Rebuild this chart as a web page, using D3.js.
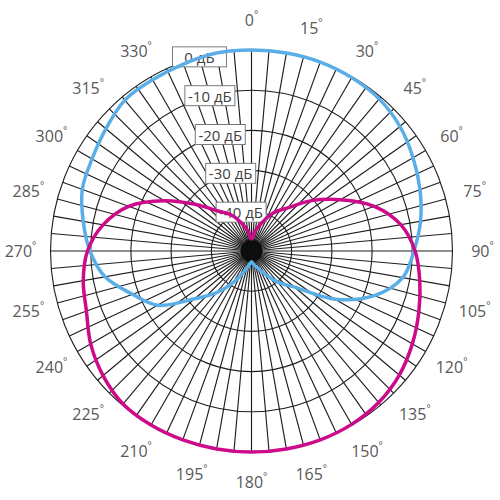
<!DOCTYPE html>
<html>
<head>
<meta charset="utf-8">
<script src="https://cdn.jsdelivr.net/npm/d3@7"></script>
<style>
  body { margin: 0; background: #fff; }
  text { font-family: "Open Sans", sans-serif; }
</style>
</head>
<body>
<div id="chart"></div>
<script>
// angles of the measured points (degrees, clockwise from top)
const angles = [0, 10, 20, 30, 40, 50, 60, 70, 80, 90, 100, 110, 120, 130, 140, 150, 160, 170,
                180, 190, 200, 210, 220, 230, 240, 250, 260, 270, 280, 290, 300, 310, 320, 330, 340, 350];
// front pattern (blue), dB
const frontDb = [0, 0, 0, -0.2, -0.6, -1.8, -3.6, -5.4, -7.3, -9.6, -11.8, -17.5, -26, -36, -40, -43.5, -45.5, -46.5,
                 -47.3, -46.5, -44.5, -41, -36.5, -31.5, -23, -18.5, -13, -9.8, -7.5, -5.2, -4.2, -2.7, -1, -0.8, -0.5, 0];
// rear pattern (magenta), dB
const rearDb = [-47, -45, -42.5, -39, -36, -30.5, -24.5, -17.5, -12.3, -9.3, -7.5, -5.7, -3.8, -2, -0.8, -0.2, 0, 0,
                0, 0, 0, 0, -0.3, -1.8, -3.8, -6.3, -7.5, -9.2, -12.5, -17.5, -25, -32, -37, -39.5, -42.5, -45];

// 345° has no label: the "0 дБ" box sits there
const angleTicks = [0, 15, 30, 45, 60, 75, 90, 105, 120, 135, 150, 165, 180, 195, 210, 225, 240, 255, 270, 285, 300, 315, 330];
const ringLevels = [-40, -30, -20, -10, 0];
const ringLabels = ["-40 дБ", "-30 дБ", "-20 дБ", "-10 дБ", "0 дБ"];
const spokeAngles = d3.range(0, 360, 5);

const width = 500, height = 500;
const cx = 251.5, cy = 251, R = 201;

const svg = d3.select("#chart").append("svg")
    .attr("width", width)
    .attr("height", height);

const g = svg.append("g").attr("transform", "translate(" + cx + "," + cy + ")");

const r = d3.scaleLinear().domain([-50, 0]).range([0, R]);
const rad = d => d * Math.PI / 180;

// spokes
g.selectAll(".spoke")
    .data(spokeAngles)
    .enter().append("line")
    .attr("x1", 0).attr("y1", 0)
    .attr("x2", d => R * Math.sin(rad(d)))
    .attr("y2", d => -R * Math.cos(rad(d)))
    .attr("stroke", "#1e1e1e")
    .attr("stroke-width", 1.15);

// rings
g.selectAll(".ring")
    .data(ringLevels)
    .enter().append("circle")
    .attr("r", d => r(d))
    .attr("fill", "none")
    .attr("stroke", "#1e1e1e")
    .attr("stroke-width", 1.1);

// spokes merge into a solid spot at the centre
g.append("circle")
    .attr("r", 11)
    .attr("fill", "#0d0d0d");

// angle labels
const lab = g.selectAll(".alab")
    .data(angleTicks)
    .enter().append("text")
    .attr("x", d => 231 * Math.sin(rad(d)))
    .attr("y", d => -231 * Math.cos(rad(d)))
    .attr("text-anchor", "middle")
    .attr("dominant-baseline", "central")
    .style("font-size", "16px")
    .style("fill", "#595959");
lab.append("tspan").text(d => d);
lab.append("tspan").attr("dy", -6).style("font-size", "10px").text("°");

// dB labels along 345°
const dbl = g.selectAll(".dbl")
    .data(ringLevels)
    .enter().append("g")
    .attr("transform", d => "translate(" + (r(d) * Math.sin(rad(345))) + "," + (-r(d) * Math.cos(rad(345))) + ")");
dbl.append("rect")
    .attr("x", d => d === 0 ? -27 : -25)
    .attr("y", -10)
    .attr("width", d => d === 0 ? 54 : 50)
    .attr("height", 20)
    .attr("fill", "#fff")
    .attr("stroke", "#7a7a7a")
    .attr("stroke-width", 1);
dbl.append("text")
    .attr("text-anchor", "middle")
    .attr("dominant-baseline", "central")
    .style("font-size", "15px")
    .style("fill", "#404040")
    .text((d, i) => ringLabels[i]);

// patterns
const line = d3.lineRadial()
    .angle(d => rad(d[0]))
    .radius(d => r(d[1]))
    .curve(d3.curveCatmullRomClosed.alpha(0.5));

g.append("path")
    .datum(angles.map((a, i) => [a, frontDb[i]]))
    .attr("d", line)
    .attr("fill", "none")
    .attr("stroke", "#5aaee8")
    .attr("stroke-width", 3.5);

g.append("path")
    .datum(angles.map((a, i) => [a, rearDb[i]]))
    .attr("d", line)
    .attr("fill", "none")
    .attr("stroke", "#cc0a8a")
    .attr("stroke-width", 3.5);
</script>
</body>
</html>
